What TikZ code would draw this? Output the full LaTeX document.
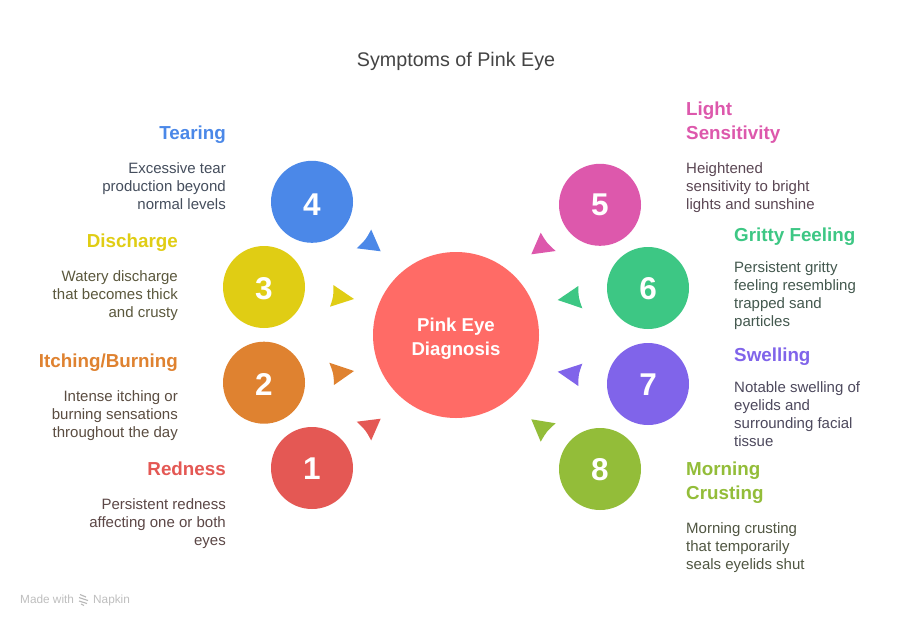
\documentclass[tikz,border=0pt]{standalone}
\usepackage{fontspec}
\setmainfont{Liberation Sans}
\definecolor{cCenter}{HTML}{FF6B66}
\definecolor{cRed}{HTML}{E45854}
\definecolor{cOrange}{HTML}{DF8230}
\definecolor{cYellow}{HTML}{E0CD14}
\definecolor{cBlue}{HTML}{4B88E8}
\definecolor{cPink}{HTML}{DD58AC}
\definecolor{cGreen}{HTML}{3DC784}
\definecolor{cPurple}{HTML}{8064EA}
\definecolor{cLime}{HTML}{93BD39}
\definecolor{cBody}{HTML}{444444}
\tikzset{
  num/.style={circle,minimum size=82pt,inner sep=0pt,text=white,font=\fontsize{31.5}{32}\selectfont\bfseries},
  head/.style={font=\fontsize{18.8}{24}\selectfont\bfseries,inner sep=0pt},
  headL/.style={head,anchor=base east,align=right},
  headR/.style={head,anchor=base west,align=left},
  bodyL/.style={font=\fontsize{15}{18}\selectfont,text=#1!15!cBody,inner sep=0pt,anchor=base east,align=right},
  bodyR/.style={font=\fontsize{15}{18}\selectfont,text=#1!15!cBody,inner sep=0pt,anchor=base west,align=left},
}
\newcommand{\numtxt}[2]{\raisebox{-#1pt}[0pt][0pt]{#2}}
\newcommand{\wedgehead}[8]{\fill[#8] (#1,#2) -- (#3,#4) .. controls (#7) .. (#5,#6) -- cycle;}
\begin{document}
\begin{tikzpicture}[x=1pt,y=-1pt]
\useasboundingbox (0,0) rectangle (912,624);
\fill[white] (0,0) rectangle (912,624);
\node[font=\fontsize{19.7}{24}\selectfont,text=cBody,inner sep=0pt] (title) at (456,61.5) {Symptoms of Pink Eye};
\node[circle,fill=cCenter,minimum size=166pt,inner sep=0pt] (hub) at (456,335) {};
\node[text=white,align=center,inner sep=0pt,font=\fontsize{18.6}{24}\selectfont\bfseries] (hubtext) at (456,339) {Pink Eye\\Diagnosis};
\node[num,fill=cRed] (n1) at (312,468) {\numtxt{11}{1}};
\node[num,fill=cOrange] (n2) at (264,382.7) {\numtxt{12.3}{2}};
\node[num,fill=cYellow] (n3) at (264,287) {\numtxt{12}{3}};
\node[num,fill=cBlue] (n4) at (312,201.8) {\numtxt{13.7}{4}};
\node[num,fill=cPink] (n5) at (600,204.8) {\numtxt{10.5}{5}};
\node[num,fill=cGreen] (n6) at (648,288) {\numtxt{11}{6}};
\node[num,fill=cPurple] (n7) at (648,384) {\numtxt{11}{7}};
\node[num,fill=cLime] (n8) at (600,469) {\numtxt{11}{8}};
% arrowheads
\wedgehead{380.7}{251.3}{371.2}{229.6}{356.7}{248.3}{365.5,240}{cBlue}
\wedgehead{354}{299}{333.3}{285}{330}{306.7}{333.6,296.2}{cYellow}
\wedgehead{354}{371}{329.3}{362.7}{334}{385}{333.6,373.6}{cOrange}
\wedgehead{380.7}{418.7}{356.7}{421.7}{371.2}{440.4}{365.5,430}{cRed}
\wedgehead{531.3}{254.3}{540.7}{232.7}{555.7}{251}{546.8,243}{cPink}
\wedgehead{557.7}{300}{578.3}{286}{582.3}{308.3}{578.4,297.4}{cGreen}
\wedgehead{557.7}{371.7}{582.3}{363.7}{578.3}{386}{578.4,374.5}{cPurple}
\wedgehead{531.3}{419.3}{555.7}{423.3}{540.7}{441.7}{546.8,431.2}{cLime}
% left texts
\node[headL,text=cBlue] (h4) at (226,139) {Tearing};
\node[bodyL=cBlue] (b4) at (226,209) {Excessive tear\\production beyond\\normal levels};
\node[headL,text=cYellow] (h3) at (178,247) {Discharge};
\node[bodyL=cYellow] (b3) at (178,317) {Watery discharge\\that becomes thick\\and crusty};
\node[headL,text=cOrange] (h2) at (178,367) {Itching/Burning};
\node[bodyL=cOrange] (b2) at (178,437) {Intense itching or\\burning sensations\\throughout the day};
\node[headL,text=cRed] (h1) at (226,475) {Redness};
\node[bodyL=cRed] (b1) at (226,545) {Persistent redness\\affecting one or both\\eyes};
% right texts
\node[headR,text=cPink] (h5) at (686,139) {Light\\Sensitivity};
\node[bodyR=cPink] (b5) at (686,209) {Heightened\\sensitivity to bright\\lights and sunshine};
\node[headR,text=cGreen] (h6) at (734,241) {Gritty Feeling};
\node[bodyR=cGreen] (b6) at (734,326) {Persistent gritty\\feeling resembling\\trapped sand\\particles};
\node[headR,text=cPurple] (h7) at (734,361) {Swelling};
\node[bodyR=cPurple] (b7) at (734,446) {Notable swelling of\\eyelids and\\surrounding facial\\tissue};
\node[headR,text=cLime] (h8) at (686,499) {Morning\\Crusting};
\node[bodyR=cLime] (b8) at (686,569) {Morning crusting\\that temporarily\\seals eyelids shut};
% footer
\node[font=\fontsize{11.8}{13}\selectfont,text=black!25,inner sep=0pt,anchor=base west] (made) at (20,603.5) {Made with};
\node[font=\fontsize{11.8}{13}\selectfont,text=black!25,inner sep=0pt,anchor=base west] (napkin) at (93,603.5) {Napkin};
\draw[black!28,line width=1.1pt] (80,594.5) -- (86,597) (79,597.5) -- (88,600.5) (79,601) -- (87,603.5) (81,604) -- (84,605.5);
\end{tikzpicture}
\end{document}
